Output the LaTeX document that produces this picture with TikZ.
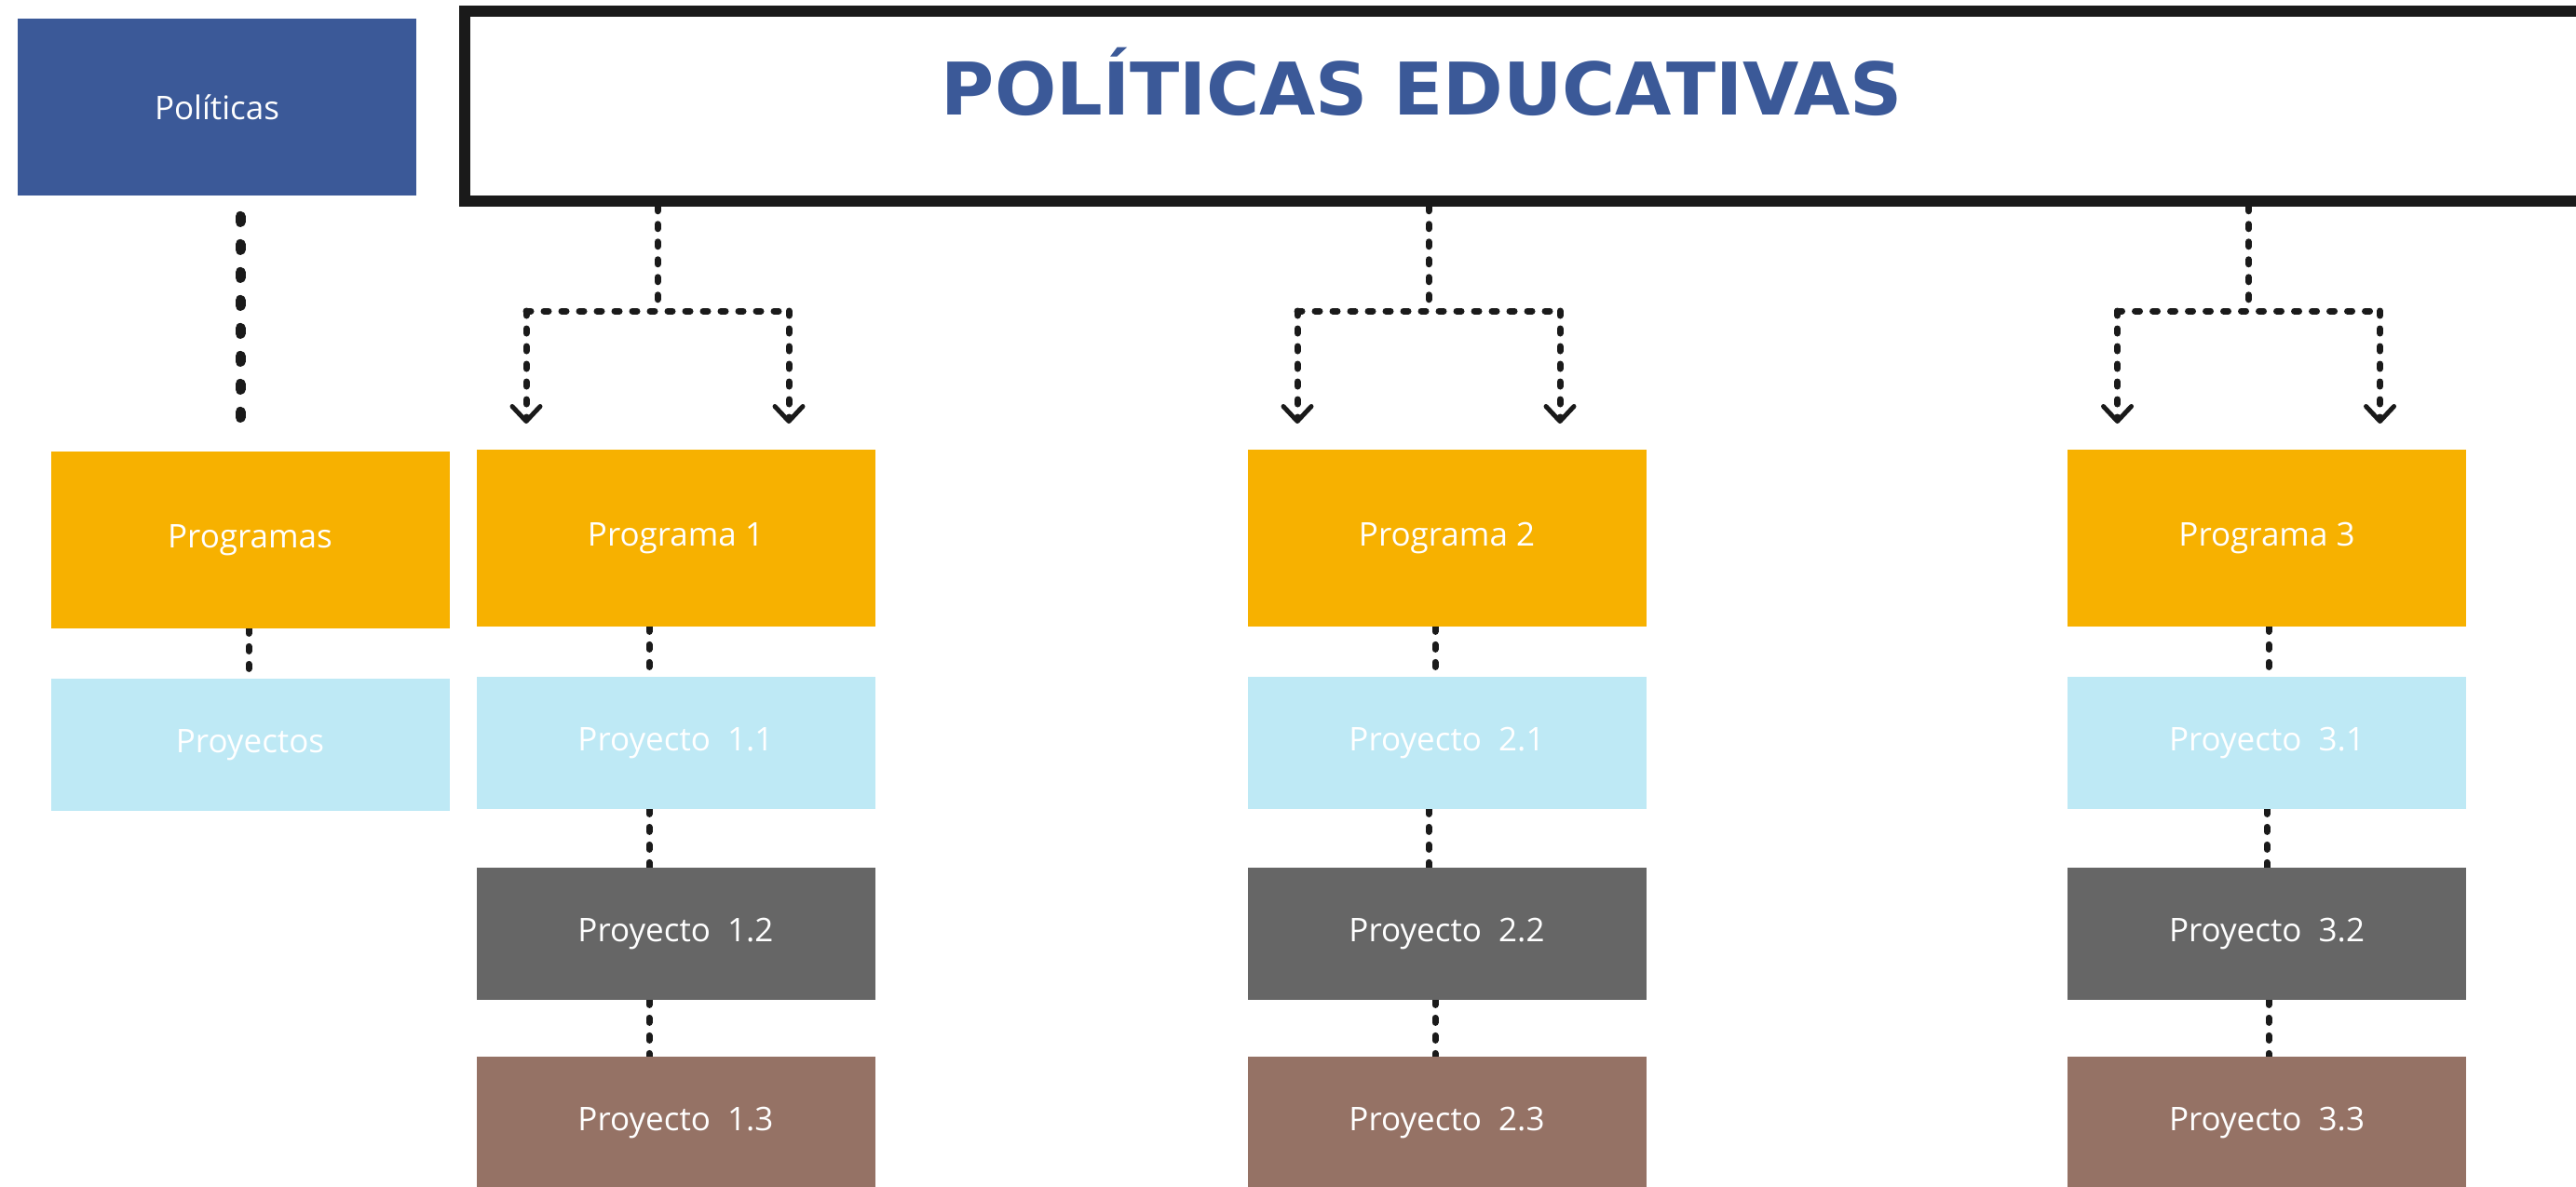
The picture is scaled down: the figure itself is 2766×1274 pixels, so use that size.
\documentclass[tikz,border=0pt]{standalone}
\usepackage{fontspec}
\setmainfont{Open Sans}
\newfontfamily\titlefont{DejaVu Sans}
\usetikzlibrary{arrows.meta,calc,backgrounds}

\definecolor{azulpol}{RGB}{59,89,152}
\definecolor{naranja}{RGB}{247,177,0}
\definecolor{celeste}{RGB}{190,233,245}
\definecolor{grisosc}{RGB}{102,102,102}
\definecolor{marron}{RGB}{149,114,101}
\definecolor{negro}{RGB}{26,26,26}

\tikzset{
  every caja/.style={rectangle, inner sep=0pt, minimum width=214pt, minimum height=71pt,
    text=white, font=\fontsize{17.5}{21}\selectfont},
  caja politica/.style={fill=azulpol, minimum height=95pt},
  caja programa/.style={fill=naranja, minimum height=95pt},
  caja proyecto 1/.style={fill=celeste},
  caja proyecto 2/.style={fill=grisosc},
  caja proyecto 3/.style={fill=marron},
  enlace/.style={draw=negro, line width=3.5pt, line cap=round, dash pattern=on 2.5pt off 7pt},
  enlace grueso/.style={draw=negro, line width=5.5pt, line cap=round, dash pattern=on 3pt off 12pt}
}

\begin{document}
\begin{tikzpicture}[x=0.5pt, y=-0.5pt, >={Straight Barb[length=8pt, width=15pt, line width=2.5pt, round]}]

\useasboundingbox (0,0) rectangle (2766,1274);
\clip (0,0) rectangle (2766,1274);

% leyenda de la izquierda
\node [every caja/.try, caja politica/.try] (politicas) at (233,115) {Políticas};
\node [every caja/.try, caja programa/.try] (programas) at (268.5,580) {Programas};
\node [every caja/.try, caja proyecto 1/.try] (proyectos) at (268.5,800) {Proyectos};

% titulo
\node [draw=negro, line width=5.75pt, minimum width=1140.5pt, minimum height=102pt] (titulo) at (1639.5,114) {};
\node [anchor=base, text=azulpol, font=\titlefont\bfseries\fontsize{39}{44}\selectfont] (titulo-texto) at (1527,123) {POLÍTICAS EDUCATIVAS};

\foreach \c/\x in {1/725.5, 2/1553.5, 3/2434} {
  \node [every caja/.try, caja programa/.try] (programa-\c) at (\x,578) {Programa \c};
  \foreach \p/\y in {1/798, 2/1003, 3/1206}
    \node [every caja/.try, caja proyecto \p/.try] (proyecto-\c-\p) at (\x,\y) {Proyecto~~\c.\p};
  \coordinate (rama-\c) at (\x-19.5,334);
  \coordinate (rama-\c-izq) at (\x-160.5,334);
  \coordinate (rama-\c-der) at (\x+121.5,334);
  \coordinate (punta-\c-izq) at (\x-160.5,455);
  \coordinate (punta-\c-der) at (\x+121.5,455);
}

\begin{pgfonlayer}{background}
\draw [enlace grueso, shorten <=11pt, shorten >=6.75pt]
  ($(politicas.south)+(25,0)$) -- ($(programas.north)+(-10.5,0)$);
\draw [enlace] ($(programas.south)+(-1.5,0)$) -- ($(proyectos.north)+(-1.5,0)$);

\foreach \c in {1,2,3} {
  \draw [enlace] (titulo.south -| rama-\c) -- (rama-\c);
  \draw [enlace] (rama-\c-izq) -- (rama-\c-der);
  \draw [enlace, ->] (rama-\c-izq) -- (punta-\c-izq);
  \draw [enlace, ->] (rama-\c-der) -- (punta-\c-der);
}

\foreach \c/\da/\db in {1/-28.5/-28.5, 2/-12.5/-19.5, 3/2/0} {
  \draw [enlace] ($(programa-\c.south)+(\da,0)$) -- ($(proyecto-\c-1.north)+(\da,0)$);
  \draw [enlace] ($(proyecto-\c-1.south)+(\db,0)$) -- ($(proyecto-\c-2.north)+(\db,0)$);
  \draw [enlace] ($(proyecto-\c-2.south)+(\da,0)$) -- ($(proyecto-\c-3.north)+(\da,0)$);
}
\end{pgfonlayer}

\end{tikzpicture}
\end{document}
